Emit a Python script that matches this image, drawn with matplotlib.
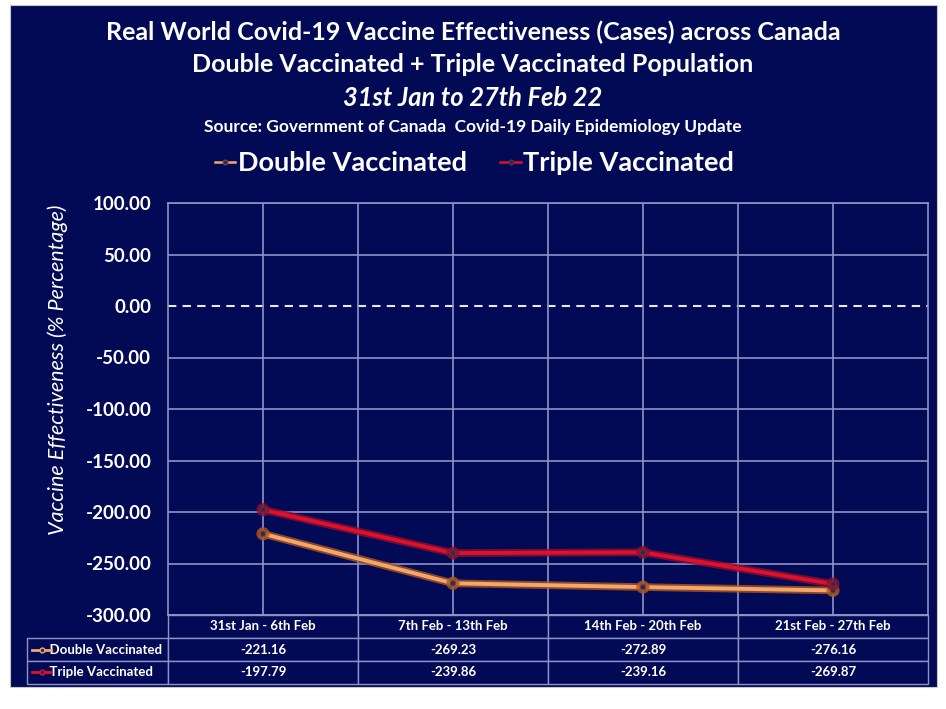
import matplotlib
matplotlib.use("Agg")
import matplotlib.pyplot as plt
import matplotlib.patheffects as pe
from matplotlib.patches import Rectangle
from matplotlib.lines import Line2D

plt.rcParams['font.family'] = ['Lato', 'DejaVu Sans']

categories = ["31st Jan - 6th Feb", "7th Feb - 13th Feb", "14th Feb - 20th Feb", "21st Feb - 27th Feb"]
double_vals = [-221.16, -269.23, -272.89, -276.16]
triple_vals = [-197.79, -239.86, -239.16, -269.87]
series_names = ["Double Vaccinated", "Triple Vaccinated"]
yticks = [100, 50, 0, -50, -100, -150, -200, -250, -300]

NAVY = '#030a55'
GRID = '#8d93c6'
W, H = 946, 709

fig = plt.figure(figsize=(W / 100, H / 100), dpi=100, facecolor='white')
fig.patches.append(Rectangle((10 / W, 1 - 687 / H), 927 / W, 682 / H,
                             transform=fig.transFigure, facecolor=NAVY,
                             edgecolor='#c8c8c8', linewidth=0.8, zorder=-5))

ax = fig.add_axes([168 / W, 1 - 615 / H, 760 / W, 412 / H])
ax.set_zorder(2)
ax.set_facecolor(NAVY)
ax.set_xlim(-0.5, len(categories) - 0.5)
ax.set_ylim(-300, 100)

# grid
for y in yticks:
    if y == 0:
        ax.axhline(y, color='#e6e8f5', lw=1.5, ls=(0, (4, 3)), zorder=1)
    else:
        ax.axhline(y, color=GRID, lw=1.2, zorder=1)
for i in range(len(categories)):
    ax.axvline(i, color=GRID, lw=1.2, zorder=1)
for i in range(len(categories) - 1):
    ax.axvline(i + 0.5, color=GRID, lw=1.2, zorder=1)
for s in ax.spines.values():
    s.set_color(GRID)
    s.set_linewidth(1.2)

x = list(range(len(categories)))
l_double, = ax.plot(x, double_vals, color='#f2a86a', lw=2.8, marker='o', ms=4,
                    mfc='#3a2840', mec='#6a4a50', mew=0.8, zorder=3,
                    path_effects=[pe.Stroke(linewidth=5.5, foreground='#b0561e', alpha=0.8), pe.Normal()])
l_triple, = ax.plot(x, triple_vals, color='#e0102c', lw=2.8, marker='o', ms=4,
                    mfc='#3a2840', mec='#6a3040', mew=0.8, zorder=3,
                    path_effects=[pe.Stroke(linewidth=5.5, foreground='#8a1030', alpha=0.8), pe.Normal()])

ax.set_yticks(yticks)
ax.set_yticklabels([f"{v:.2f}" for v in yticks], color='white', fontsize=13.5, fontweight='bold')
ax.tick_params(axis='y', length=0, pad=12)
ax.set_xticks([])
ax.set_ylabel("Vaccine Effectiveness (% Percentage)", color='white', fontsize=15.5,
              fontstyle='italic')
ax.yaxis.set_label_coords(-0.131, 0.595)

# data table (first column holds the series names)
cell_text = [["      " + series_names[0]] + [f"{v:.2f}" for v in double_vals],
             ["      " + series_names[1]] + [f"{v:.2f}" for v in triple_vals]]
col_w = [141 / 901] + [190 / 901] * 4
tbl = ax.table(cellText=cell_text, colLabels=[""] + categories, colWidths=col_w,
               cellLoc='center', bbox=[-141 / 760, -69 / 412, 901 / 760, 69 / 412])
tbl.auto_set_font_size(False)
for (r, c), cell in tbl.get_celld().items():
    cell.set_facecolor(NAVY)
    cell.set_edgecolor(GRID)
    cell.set_linewidth(1.0)
    t = cell.get_text()
    t.set_color('white')
    t.set_fontweight('bold')
    t.set_fontsize(9.5)
    if c == 0:
        t.set_ha('left')
        cell._loc = 'left'
        cell.PAD = 0.02
    if r == 0 and c == 0:
        cell.set_visible(False)

# legend icons in table row labels
row_y = [-(24 + 11) / 412, -(24 + 22 + 11) / 412]
for ln, yy in zip([l_double, l_triple], row_y):
    ax.add_line(Line2D([-136 / 760, -117 / 760], [yy, yy], transform=ax.transAxes,
                       color=ln.get_color(), lw=2, clip_on=False, zorder=5))
    ax.plot([-126.5 / 760], [yy], transform=ax.transAxes, marker='o', ms=3.5,
            mfc='#3a2840', mec=ln.get_color(), clip_on=False, zorder=6)

# titles
fig.text(473 / W, 1 - 32 / H, "Real World Covid-19 Vaccine Effectiveness (Cases) across Canada",
         ha='center', va='center', color='white', fontsize=18, fontweight='bold')
fig.text(473 / W, 1 - 65 / H, "Double Vaccinated + Triple Vaccinated Population",
         ha='center', va='center', color='white', fontsize=18, fontweight='bold')
fig.text(473 / W, 1 - 98 / H, "31st Jan to 27th Feb 22",
         ha='center', va='center', color='white', fontsize=18.4, fontweight='bold', fontstyle='italic')
fig.text(473 / W, 1 - 127 / H, "Source: Government of Canada  Covid-19 Daily Epidemiology Update",
         ha='center', va='center', color='white', fontsize=12.5, fontweight='bold')

leg = fig.legend([l_double, l_triple], series_names, loc='center',
                 bbox_to_anchor=(474.5 / W, 1 - 163 / H), ncol=2, frameon=False,
                 handlelength=0.75, handletextpad=0.08, columnspacing=1.25,
                 prop={'size': 19.5, 'weight': 'bold'}, labelcolor='white')
for h in leg.legend_handles:
    h.set_path_effects([])
    h.set_linewidth(1.8)
    h.set_markersize(3.5)

fig.savefig("out.png", dpi=100, facecolor='white')
